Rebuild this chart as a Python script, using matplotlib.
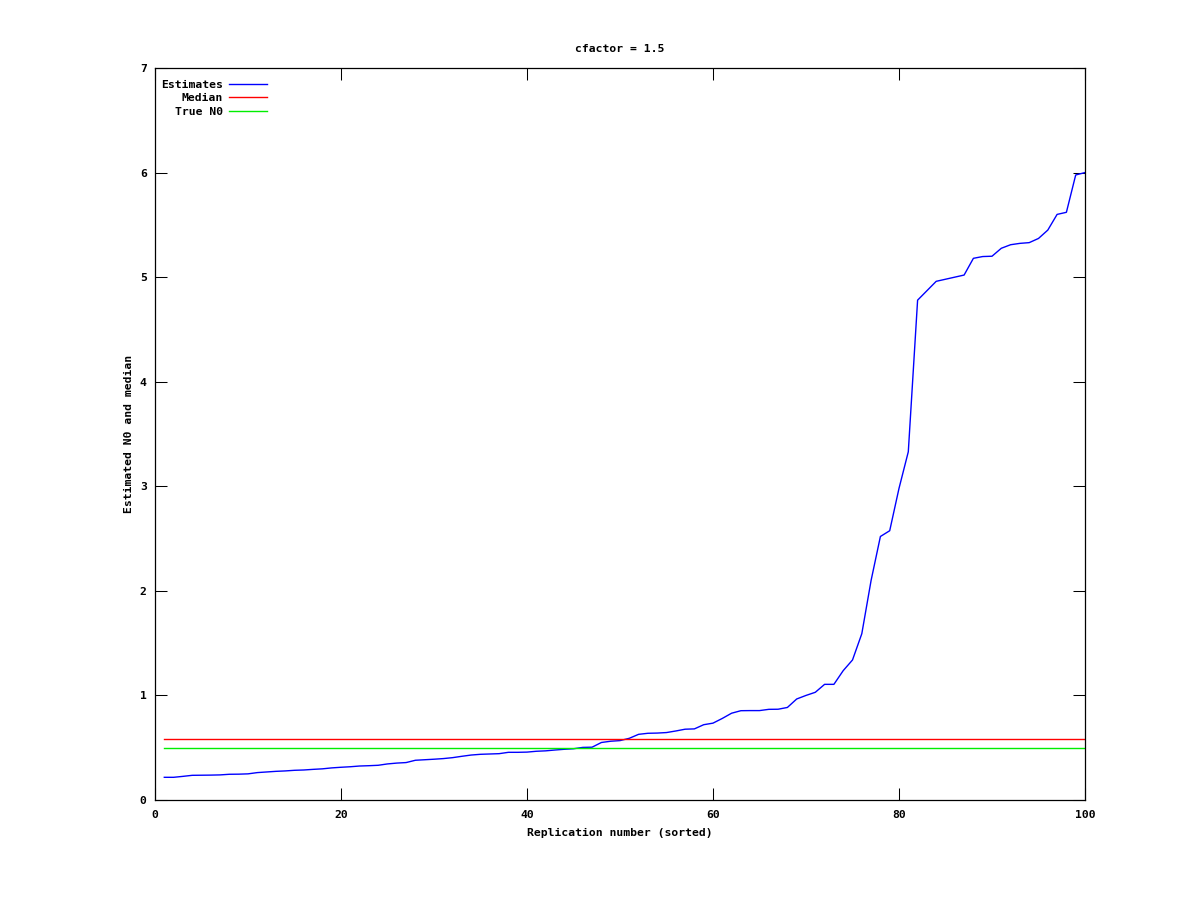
import matplotlib
matplotlib.use("Agg")
import matplotlib.pyplot as plt
import numpy as np

replication = list(range(1, 101))
estimates = [
    0.217, 0.217, 0.226, 0.236, 0.237, 0.238, 0.240, 0.246, 0.247, 0.250,
    0.262, 0.268, 0.274, 0.278, 0.284, 0.287, 0.293, 0.298, 0.307, 0.313,
    0.318, 0.325, 0.328, 0.332, 0.345, 0.353, 0.358, 0.380, 0.385, 0.390,
    0.396, 0.405, 0.418, 0.430, 0.437, 0.440, 0.443, 0.456, 0.456, 0.458,
    0.466, 0.470, 0.478, 0.485, 0.490, 0.503, 0.505, 0.550, 0.562, 0.568,
    0.590, 0.628, 0.638, 0.640, 0.645, 0.660, 0.677, 0.680, 0.720, 0.735,
    0.780, 0.830, 0.854, 0.855, 0.855, 0.867, 0.868, 0.885, 0.966, 1.000,
    1.030, 1.106, 1.106, 1.237, 1.339, 1.590, 2.100, 2.520, 2.575, 2.980,
    3.330, 4.780, 4.870, 4.960, 4.980, 5.000, 5.020, 5.180, 5.197, 5.200,
    5.276, 5.310, 5.323, 5.330, 5.370, 5.450, 5.600, 5.620, 5.977, 6.000,
]
median_value = 0.583
true_n0 = 0.5

x_ticks = [0, 20, 40, 60, 80, 100]
y_ticks = [0, 1, 2, 3, 4, 5, 6, 7]

title = "cfactor = 1.5"
xlabel = "Replication number (sorted)"
ylabel = "Estimated N0 and median"

fs = 8.2
plt.rcParams["font.family"] = "DejaVu Sans Mono"
plt.rcParams["font.weight"] = "bold"
plt.rcParams["font.size"] = fs

fig = plt.figure(figsize=(12, 9), dpi=100)
ax = fig.add_axes([155 / 1200, 100 / 900, 930 / 1200, 732 / 900])

lw = 1.0
ax.plot(replication, estimates, color="#0000ff", lw=lw, label="Estimates")
ax.plot([replication[0], replication[-1]], [median_value, median_value],
        color="#ff0000", lw=lw, label="Median")
ax.plot([replication[0], replication[-1]], [true_n0, true_n0],
        color="#00ee00", lw=lw, label="True N0")

ax.set_xlim(0, 100)
ax.set_ylim(0, 7)
ax.set_xticks(x_ticks)
ax.set_yticks(y_ticks)
ax.tick_params(direction="in", length=8.5, width=0.75, top=True, right=True,
               labelsize=fs)
ax.tick_params(axis="x", pad=7)
ax.tick_params(axis="y", pad=6)
for s in ax.spines.values():
    s.set_linewidth(0.9)

ax.set_title(title, fontsize=fs, fontweight="bold", pad=11.5)
ax.set_xlabel(xlabel, fontsize=fs, fontweight="bold", labelpad=6)
ax.set_ylabel(ylabel, fontsize=fs, fontweight="bold", labelpad=4)

leg = ax.legend(loc="upper left", bbox_to_anchor=(161 / 1200, 1 - 80 / 900),
                bbox_transform=fig.transFigure, frameon=False, markerfirst=False,
                handlelength=3.3, handletextpad=0.55, labelspacing=0.3,
                borderpad=0, borderaxespad=0, fontsize=fs)

fig.savefig("out.png", dpi=100)
